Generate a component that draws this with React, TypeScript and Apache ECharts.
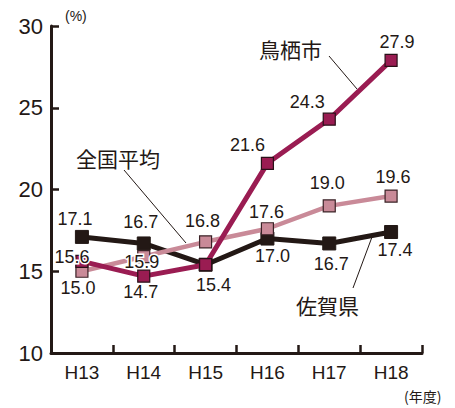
import React, { useEffect, useRef } from "react";
import * as echarts from "echarts";

const categories = ["H13", "H14", "H15", "H16", "H17", "H18"];
const tosu = [15.6, 14.7, 15.4, 21.6, 24.3, 27.9];
const national = [15.0, 15.9, 16.8, 17.6, 19.0, 19.6];
const saga = [17.1, 16.7, 15.4, 17.0, 16.7, 17.4];
const yTicks = [10, 15, 20, 25, 30];

// label offsets (text centre relative to marker centre), null = no label
const tosuOffsets: ([number, number] | null)[] = [[-10, -4], [-3, 16], [8, 20], [-20, -18], [-22, -17], [6, -18]];
const nationalOffsets: ([number, number] | null)[] = [[-4, 17], [-2, 5], [-3, -21], [-1, -17], [-2, -23], [2, -19]];
const sagaOffsets: ([number, number] | null)[] = [[-7, -18], [-3, -21], null, [5, 17], [2, 21], [4, 18]];

const TEXT = "#231815";
const FONT = "'Liberation Sans', Arial, Helvetica, sans-serif";
const CJK = "'Noto Sans CJK JP', 'Noto Sans', sans-serif";

function makeData(values: number[], offsets: ([number, number] | null)[]) {
  return values.map((v, i) => {
    const off = offsets[i];
    return {
      value: v,
      label: off
        ? {
            show: true,
            position: "inside",
            offset: off,
            formatter: (p: any) => Number(p.value).toFixed(1),
            color: TEXT,
            fontSize: 18,
            fontFamily: FONT,
            textBorderColor: "#fff",
            textBorderWidth: 3,
          }
        : { show: false },
    };
  });
}

export default function App() {
  const ref = useRef<HTMLDivElement>(null);
  useEffect(() => {
    if (!ref.current) return;
    const chart = echarts.init(ref.current, undefined, { renderer: "svg" });
    chart.setOption({
      animation: false,
      backgroundColor: "#fff",
      grid: { left: 51, right: 33, top: 26, bottom: 55, containLabel: false },
      xAxis: {
        type: "category",
        data: categories,
        boundaryGap: true,
        axisLine: { lineStyle: { color: TEXT, width: 3 } },
        axisTick: { show: true, inside: true, length: 8, lineStyle: { color: TEXT, width: 2.5 } },
        axisLabel: { color: TEXT, fontSize: 19, fontFamily: FONT, margin: 10 },
      },
      yAxis: {
        type: "value",
        min: yTicks[0],
        max: yTicks[yTicks.length - 1],
        interval: 5,
        splitLine: { show: false },
        axisLine: { show: true, lineStyle: { color: TEXT, width: 3 } },
        axisTick: { show: true, inside: true, length: 8, lineStyle: { color: TEXT, width: 2.5 } },
        axisLabel: { color: TEXT, fontSize: 22, fontFamily: FONT, margin: 8 },
      },
      series: [
        {
          name: "佐賀県",
          type: "line",
          data: makeData(saga, sagaOffsets),
          symbol: "rect",
          symbolSize: 13,
          lineStyle: { color: "#231815", width: 5 },
          itemStyle: { color: "#231815", borderColor: "#231815", borderWidth: 1 },
          z: 2,
        },
        {
          name: "全国平均",
          type: "line",
          data: makeData(national, nationalOffsets),
          symbol: "rect",
          symbolSize: 12,
          lineStyle: { color: "#c98a98", width: 4.5 },
          itemStyle: { color: "#c98a98", borderColor: "#3a2226", borderWidth: 1.2 },
          z: 3,
        },
        {
          name: "鳥栖市",
          type: "line",
          data: makeData(tosu, tosuOffsets),
          symbol: "rect",
          symbolSize: 12,
          lineStyle: { color: "#9a1c52", width: 5 },
          itemStyle: { color: "#9a1c52", borderColor: "#2a1018", borderWidth: 1.2 },
          z: 4,
        },
      ],
      graphic: [
        { type: "text", left: 65, top: 9, style: { text: "(%)", fill: TEXT, fontSize: 14, fontFamily: FONT } },
        { type: "text", left: 404, top: 389, style: { text: "(年度)", fill: TEXT, fontSize: 14, fontFamily: CJK } },
        { type: "text", left: 259, top: 38, style: { text: "鳥栖市", fill: TEXT, fontSize: 21, fontFamily: CJK } },
        { type: "line", shape: { x1: 329, y1: 56, x2: 357, y2: 89 }, style: { stroke: TEXT, lineWidth: 1 } },
        { type: "text", left: 76, top: 147, style: { text: "全国平均", fill: TEXT, fontSize: 21, fontFamily: CJK } },
        { type: "line", shape: { x1: 124, y1: 170, x2: 186, y2: 243 }, style: { stroke: TEXT, lineWidth: 1 } },
        { type: "text", left: 296, top: 294, style: { text: "佐賀県", fill: TEXT, fontSize: 21, fontFamily: CJK } },
        { type: "line", shape: { x1: 353, y1: 288, x2: 372, y2: 237 }, style: { stroke: TEXT, lineWidth: 1 } },
      ],
    });
    return () => chart.dispose();
  }, []);
  return <div ref={ref} style={{ width: 455, height: 408, position: "absolute", left: 0, top: 0 }} />;
}
